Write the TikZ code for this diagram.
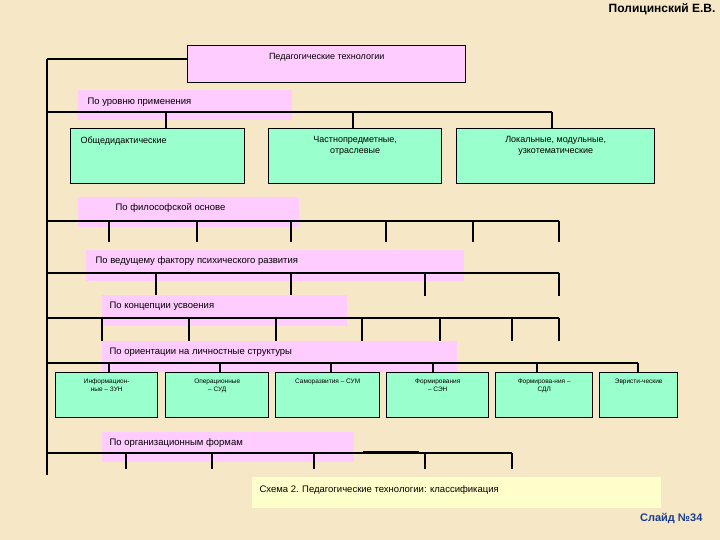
\documentclass[tikz,border=0pt]{standalone}
\usepackage{fontspec}
\setmainfont{Liberation Sans}
\begin{document}
\begin{tikzpicture}[x=1pt,y=-1pt,
  bus/.style={line width=1.6pt},
  pinkl/.style={fill=pinkc,anchor=north west,inner sep=0pt},
  gbox/.style={draw,line width=1.4pt,fill=greenc,anchor=north west,inner sep=0pt},
  btxt/.style={anchor=north,font=\fontsize{9}{11}\selectfont,align=center},
  stxt/.style={anchor=north,font=\fontsize{6.5}{8}\selectfont,align=center},
  ltxt/.style={anchor=west,font=\fontsize{9.5}{11}\selectfont}]
\definecolor{bgc}{HTML}{F6E8C6}
\definecolor{pinkc}{HTML}{FFCCFF}
\definecolor{greenc}{HTML}{99FFCC}
\definecolor{yelc}{HTML}{FFFFCC}
\definecolor{bluec}{HTML}{1A3C8C}
\fill[bgc] (0,0) rectangle (720,540);
\useasboundingbox (0,0) rectangle (720,540);
% header
\node[anchor=east,font=\bfseries\fontsize{12}{13}\selectfont] (auth) at (719,9) {Полицинский Е.В.};
% main line
\coordinate (m0) at (47,59);
\coordinate (m1) at (47,475);
\draw[bus] (m0) -- (m1);
% top
\node[draw,line width=1.4pt,fill=pinkc,minimum width=278pt,minimum height=37pt,anchor=north west,inner sep=0pt] (top) at (187,45) {};
\node[btxt] at ([yshift=-5pt]top.north) {Педагогические технологии};
\draw[bus] (m0) -- (top.west |- m0);
% level 1
\node[pinkl,minimum width=214pt,minimum height=30pt] (l1) at (78,90) {};
\node[ltxt] at (84,102) {По уровню применения};
\coordinate (h1a) at (47,112); \coordinate (h1b) at (552,112);
\draw[bus] (h1a) -- (h1b);
\node[gbox,minimum width=174pt,minimum height=55pt] (g1) at (70,128) {};
\node[gbox,minimum width=173pt,minimum height=55pt] (g2) at (268,128) {};
\node[gbox,minimum width=198pt,minimum height=55pt] (g3) at (456,128) {};
\node[btxt,anchor=north west] at ([xshift=7pt,yshift=-5pt]g1.north west) {Общедидактические};
\node[btxt] at ([yshift=-5pt]g2.north) {Частнопредметные,\\отраслевые};
\node[btxt] at ([yshift=-5pt]g3.north) {Локальные, модульные,\\узкотематические};
\foreach \x/\n in {166/g1,353/g2,552/g3} \draw[bus] (\x,112) -- (\n.north -| \x,0);
% level 2
\node[pinkl,minimum width=221pt,minimum height=30pt] (l2) at (78,197) {};
\node[ltxt] at (112,208) {По философской основе};
\draw[bus] (47,221) coordinate (h2a) -- (559,221) coordinate (h2b);
\foreach \x in {109,197,291,386,473,559} \draw[bus] (\x,221) -- (\x,242);
% level 3
\node[pinkl,minimum width=378pt,minimum height=31pt] (l3) at (86,250) {};
\node[ltxt] at (92,261) {По ведущему фактору психического развития};
\draw[bus] (47,273) coordinate (h3a) -- (559,273) coordinate (h3b);
\foreach \x in {156,291,425,559} \draw[bus] (\x,273) -- (\x,296);
% level 4
\node[pinkl,minimum width=245pt,minimum height=31pt] (l4) at (102,295) {};
\node[ltxt] at (106,306) {По концепции усвоения};
\draw[bus] (47,318) coordinate (h4a) -- (559,318) coordinate (h4b);
\foreach \x in {102,189,276,362,440,512,559} \draw[bus] (\x,318) -- (\x,341);
% level 5
\node[pinkl,minimum width=355pt,minimum height=31pt] (l5) at (102,341) {};
\node[ltxt] at (106,352) {По ориентации на личностные структуры};
\draw[bus] (47,363) coordinate (h5a) -- (638,363) coordinate (h5b);
\node[gbox,minimum width=102pt,minimum height=45pt] (s1) at (55,372) {};
\node[gbox,minimum width=103pt,minimum height=45pt] (s2) at (165,372) {};
\node[gbox,minimum width=104pt,minimum height=45pt] (s3) at (275,372) {};
\node[gbox,minimum width=102pt,minimum height=45pt] (s4) at (386,372) {};
\node[gbox,minimum width=97pt,minimum height=45pt] (s5) at (495,372) {};
\node[gbox,minimum width=78pt,minimum height=45pt] (s6) at (599,372) {};
\node[stxt] at ([yshift=-3pt]s1.north) {Информацион-\\ные – ЗУН};
\node[stxt] at ([yshift=-3pt]s2.north) {Операционные\\– СУД};
\node[stxt] at ([yshift=-3pt]s3.north) {Саморазвития – СУМ};
\node[stxt] at ([yshift=-3pt]s4.north) {Формирования\\– СЭН};
\node[stxt] at ([yshift=-3pt]s5.north) {Формирова-ния –\\СДЛ};
\node[stxt] at ([yshift=-3pt]s6.north) {Эвристи-ческие};
\foreach \x/\n in {109/s1,220/s2,331/s3,433/s4,537/s5,638/s6} \draw[bus] (\x,363) -- (\n.north -| \x,0);
% level 6
\node[pinkl,minimum width=252pt,minimum height=30pt] (l6) at (102,432) {};
\node[ltxt] at (106,443) {По организационным формам};
\draw[bus] (47,453) coordinate (h6a) -- (512,453) coordinate (h6b);
\draw[line width=2.4pt] (363,452) coordinate (t1) -- (419,452) coordinate (t2);
\foreach \x in {126,212,314,425,512} \draw[bus] (\x,453) -- (\x,469);
% caption
\node[fill=yelc,anchor=north west,minimum width=409pt,minimum height=31pt,inner sep=0pt] (cap) at (252,477) {};
\node[ltxt,font=\fontsize{9.5}{11}\selectfont] at (256,490) {Схема 2. Педагогические технологии: классификация};
\node[anchor=east,text=bluec,font=\bfseries\fontsize{11}{12}\selectfont] (slide) at (706,518) {Слайд №34};
\end{tikzpicture}
\end{document}
